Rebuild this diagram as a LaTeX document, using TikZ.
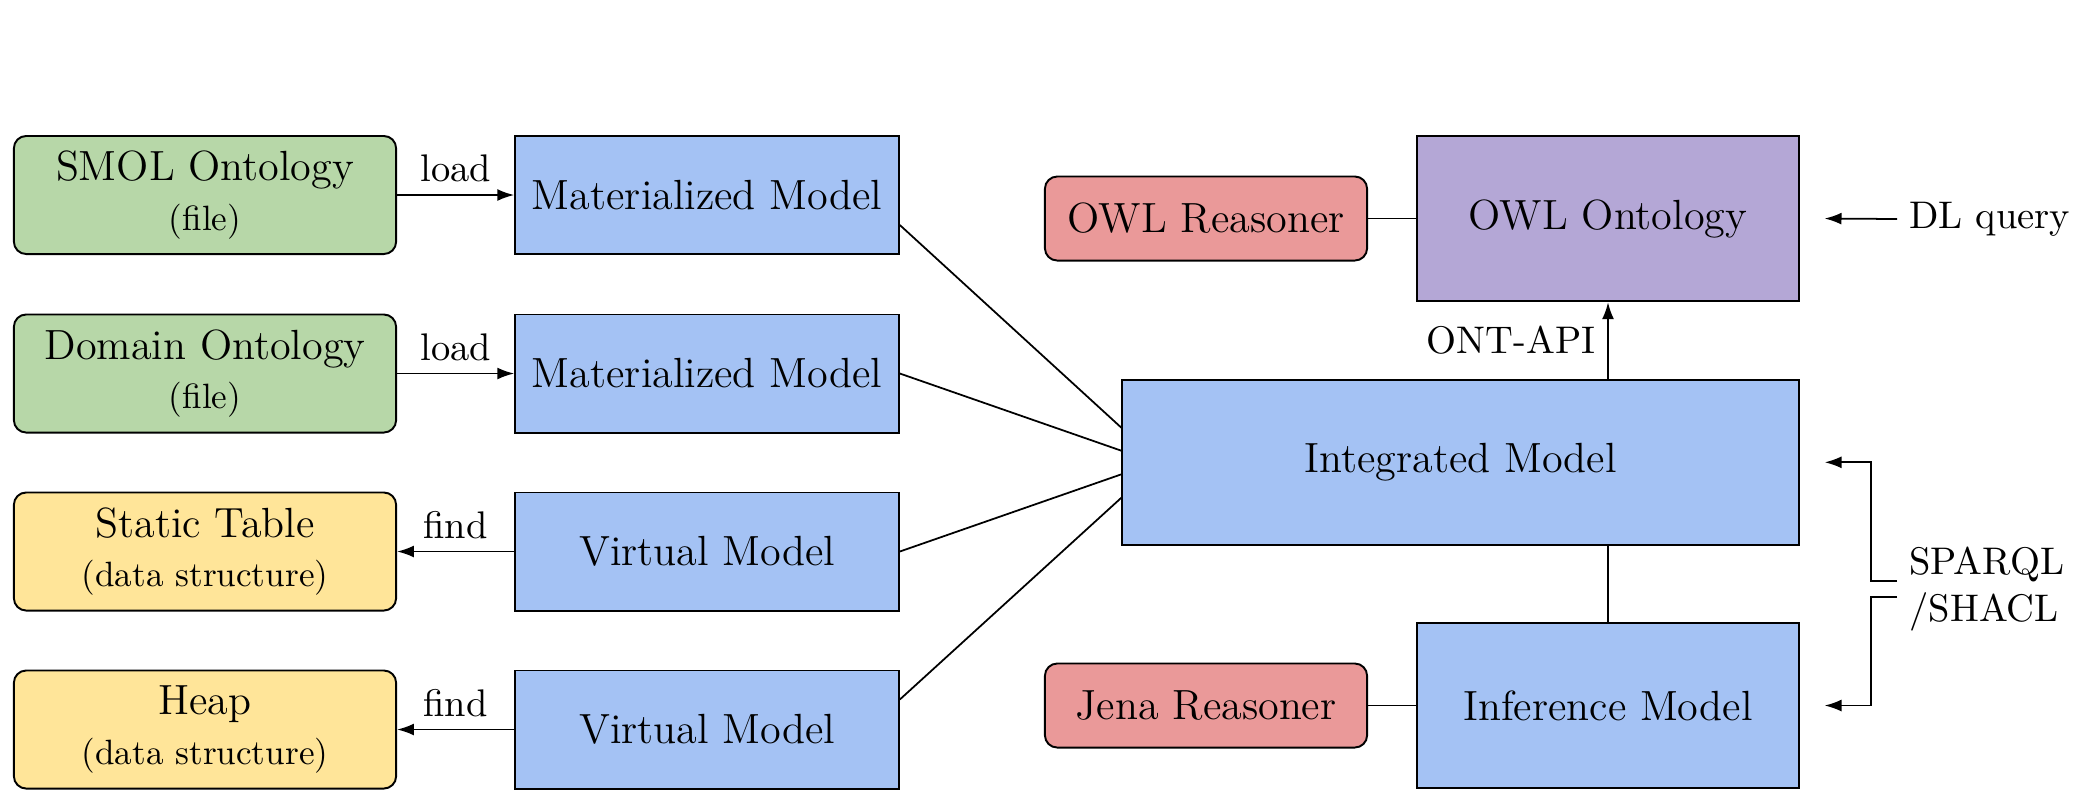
\documentclass[tikz,border=0pt]{standalone}
\usetikzlibrary{arrows.meta}
\definecolor{cgreen}{HTML}{B7D7A8}
\definecolor{cyellow}{HTML}{FFE599}
\definecolor{cblue}{HTML}{A4C2F4}
\definecolor{cpink}{HTML}{EA9999}
\definecolor{cpurple}{HTML}{B4A7D6}
\begin{document}
\begin{tikzpicture}[x=0.01cm,y=-0.01cm,
  box/.style={draw, line width=0.55pt, font=\large, align=center, inner sep=0pt},
  srcbox/.style={box, rounded corners=3.5pt, minimum width=3.82cm, minimum height=1.18cm},
  modbox/.style={box, fill=cblue, minimum width=3.835cm, minimum height=1.18cm},
  reasbox/.style={box, fill=cpink, rounded corners=3.5pt, minimum width=3.22cm, minimum height=0.84cm},
  bigbox/.style={box, minimum width=3.81cm, minimum height=1.655cm},
  lab/.style={font=\fontsize{10.95}{13.6}\selectfont},
  arr/.style={-{Latex[length=4.8pt,width=3.4pt]}, line width=0.5pt},
  conn/.style={line width=0.5pt}]
\useasboundingbox (0,0) rectangle (2083,790);

% left sources
\node[srcbox, fill=cgreen] (smol) at (205,195) {SMOL Ontology\\{\normalsize (file)}};
\node[srcbox, fill=cgreen] (dom) at (205,373.5) {Domain Ontology\\{\normalsize (file)}};
\node[srcbox, fill=cyellow] (stat) at (205,551.5) {Static Table\\{\normalsize (data structure)}};
\node[srcbox, fill=cyellow] (heap) at (205,729.5) {Heap\\{\normalsize (data structure)}};

% models
\node[modbox] (m1) at (707,195) {Materialized Model};
\node[modbox] (m2) at (707,373.5) {Materialized Model};
\node[modbox] (v1) at (707,551.5) {Virtual Model};
\node[modbox] (v2) at (707,729.5) {Virtual Model};

% right part
\node[box, fill=cblue, minimum width=6.76cm, minimum height=1.65cm] (int) at (1460.5,462.3) {Integrated Model};
\node[bigbox, fill=cpurple] (owl) at (1608,218.5) {OWL Ontology};
\node[bigbox, fill=cblue] (inf) at (1608,705.5) {Inference Model};
\node[reasbox] (owlr) at (1206,218.5) {OWL Reasoner};
\node[reasbox] (jena) at (1206,705.5) {Jena Reasoner};

\node[lab, anchor=west] (dl) at (1897,219) {DL query};
\node[lab, anchor=west, align=left] (sp) at (1897,589) {SPARQL\\/SHACL};

% arrows left
\draw[arr] (smol.east) -- (m1.west) node[midway, above, lab] {load};
\draw[arr] (dom.east) -- (m2.west) node[midway, above, lab] {load};
\draw[arr] (v1.west) -- (stat.east) node[midway, above, lab] {find};
\draw[arr] (v2.west) -- (heap.east) node[midway, above, lab] {find};

% to integrated
\draw[conn] ([yshift=-0.3cm]m1.east) -- ([yshift=0.346cm]int.west);
\draw[conn] (m2.east) -- ([yshift=0.116cm]int.west);
\draw[conn] (v1.east) -- ([yshift=-0.12cm]int.west);
\draw[conn] ([yshift=0.3cm]v2.east) -- ([yshift=-0.354cm]int.west);

% right connectors
\draw[arr] (owl.south |- int.north) -- (owl.south) node[midway, left, lab] {ONT-API};
\draw[conn] (inf.north) -- (inf.north |- int.south);
\draw[conn] (owlr.east) -- (owl.west);
\draw[conn] (jena.east) -- (inf.west);

\draw[arr] (dl.west) -- ([xshift=0.25cm]owl.east);
\draw[arr] ([yshift=0.08cm]sp.west) -- ++(-0.26cm,0) |- ([xshift=0.25cm]int.east);
\draw[arr] ([yshift=-0.08cm]sp.west) -- ++(-0.26cm,0) |- ([xshift=0.25cm]inf.east);
\end{tikzpicture}
\end{document}
